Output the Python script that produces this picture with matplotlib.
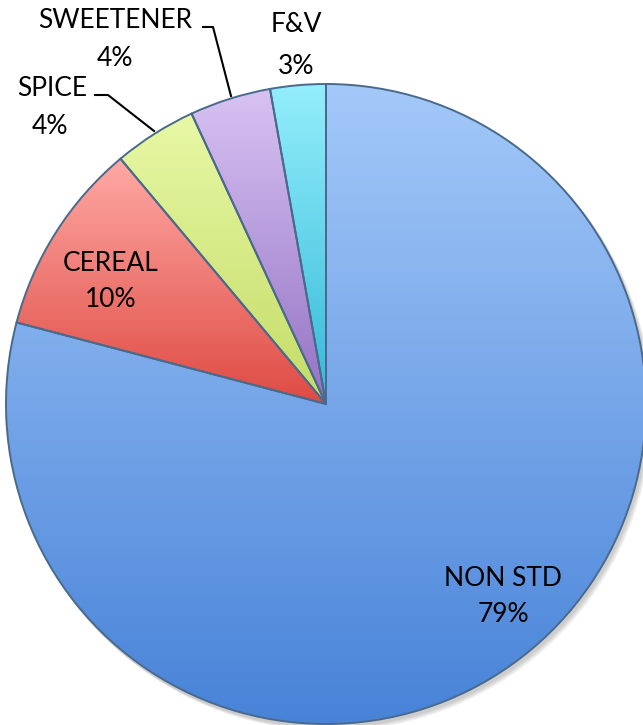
import numpy as np
import matplotlib
matplotlib.use("Agg")
import matplotlib.pyplot as plt
from matplotlib.colors import LinearSegmentedColormap

labels = ["NON STD", "CEREAL", "SPICE", "SWEETENER", "F&V"]
values = [79.1, 9.8, 4.2, 4.1, 2.8]
top_colors = ["#A4C9F9", "#FFA9A5", "#E8F8A6", "#D8C3F3", "#94EEFB"]
bot_colors = ["#4883D8", "#DE4B43", "#C3DC66", "#9472C4", "#33B9D9"]

W, H = 643, 725
fig = plt.figure(figsize=(W / 100, H / 100), dpi=100)
ax = fig.add_axes([0, 0, 1, 1])

cx, cy, r = 326, H - 404, 320

# soft shadow
for k, a in enumerate([0.05, 0.05, 0.05, 0.05]):
    sh = plt.Circle((cx + 2 + k, cy - 3 - k), r + 1, color="black", alpha=a, lw=0, zorder=0)
    ax.add_patch(sh)

wedges, _ = ax.pie(values, startangle=90, counterclock=False, center=(cx, cy),
                   radius=r, frame=True,
                   wedgeprops=dict(edgecolor="#4A6A8C", linewidth=1.4))

grad = np.linspace(0, 1, 256).reshape(-1, 1)
for w, c1, c2 in zip(wedges, top_colors, bot_colors):
    w.set_facecolor("none")
    w.set_zorder(3)
    ext = w.get_path().get_extents()
    cmap = LinearSegmentedColormap.from_list("g", [c1, c2])
    im = ax.imshow(grad, cmap=cmap, aspect="auto", origin="upper",
                   extent=[ext.x0, ext.x1, ext.y0, ext.y1], zorder=2,
                   interpolation="bilinear")
    im.set_clip_path(w)

ax.set_xlim(0, W)
ax.set_ylim(0, H)
ax.set_aspect("equal")
ax.axis("off")

tot = sum(values)
pct = [f"{v / tot * 100:.0f}%" for v in values]
fs = 19
fam = ["Lato", "DejaVu Sans"]

def lab(i, x, y, x2, y2):
    ax.text(x, H - y, labels[i], ha="center", va="center", fontsize=fs, family=fam, zorder=5)
    ax.text(x2, H - y2, pct[i], ha="center", va="center", fontsize=fs, family=fam, zorder=5)

lab(0, 503, 578, 503, 614)
lab(1, 111, 263, 111, 299)
lab(2, 52, 88, 50, 126)
lab(3, 115, 20, 115, 58)
lab(4, 296, 24, 296, 66)

# leader lines
ax.plot([203, 213, 231], [H - 27, H - 27, H - 96], color="black", lw=1.5, zorder=5)
ax.plot([95, 108, 154], [H - 95, H - 95, H - 131], color="black", lw=1.5, zorder=5)

fig.savefig("out.png", dpi=100)
